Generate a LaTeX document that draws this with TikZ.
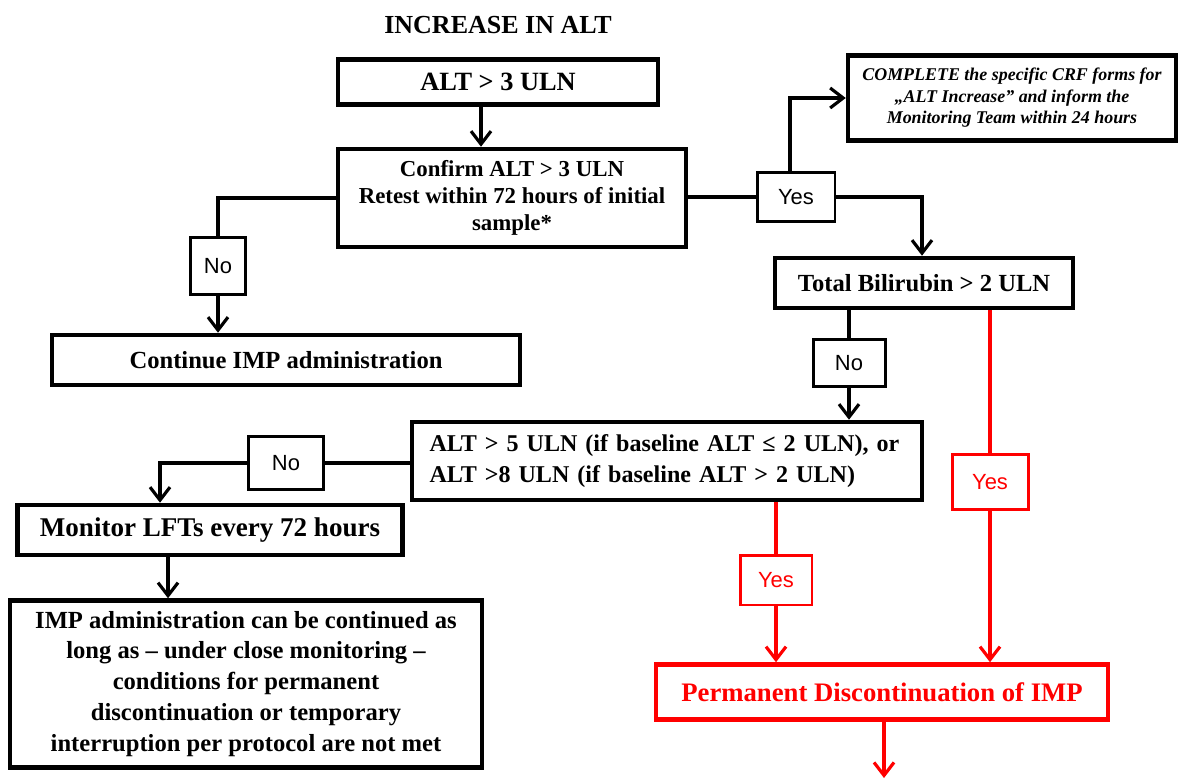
\documentclass[tikz,border=0pt]{standalone}
\usepackage{fontspec}
\setmainfont{Liberation Serif}
\newfontfamily\labelfont{Liberation Sans}
\usetikzlibrary{arrows.meta, positioning, calc}

\begin{document}
\begin{tikzpicture}[x=0.02cm, y=-0.02cm,
  box/.style={draw, line width=2.6pt, inner sep=0pt, align=center, font=\bfseries\fontsize{14}{17.6}\selectfont},
  tag/.style={draw, line width=1.7pt, inner sep=0pt, font=\labelfont\fontsize{12.5}{15}\selectfont},
  conn/.style={line width=1.8pt},
  arr/.style={conn, -{Straight Barb[length=2.6mm, width=4mm, line width=1.8pt]}}]
\useasboundingbox (0,0) rectangle (1179,780);

% decision boxes
\node[font=\bfseries\fontsize{14.8}{17}\selectfont] (title) at (498,25) {INCREASE IN ALT};
\node[box, minimum width=6.4cm, minimum height=0.9cm, font=\bfseries\fontsize{15}{18}\selectfont] (alt3) at (498,82) {ALT > 3 ULN};
\node[box, minimum width=6.96cm, minimum height=1.96cm, font=\bfseries\fontsize{13}{15.3}\selectfont] (confirm) at (512,198) {Confirm ALT > 3 ULN\\Retest within 72 hours of initial\\sample*};
\node[tag, minimum width=1.1cm, minimum height=1.14cm] (no1) at (218,266) {No};
\node[box, minimum width=9.36cm, minimum height=1cm] (cont) at (286,360) {Continue IMP administration};
\node[tag, minimum width=1.56cm, minimum height=0.98cm] (yes1) at (796,197) {Yes};
\node[box, minimum width=6.56cm, minimum height=1.7cm, font=\bfseries\itshape\fontsize{10.2}{12.2}\selectfont] (crf) at (1012,98) {COMPLETE the specific CRF forms for\\„ALT Increase” and inform the\\Monitoring Team within 24 hours};
\node[box, minimum width=5.96cm, minimum height=1cm] (bili) at (924,283) {Total Bilirubin > 2 ULN};
\node[tag, minimum width=1.44cm, minimum height=0.94cm] (no2) at (849,363) {No};
\node[box, minimum width=10.2cm, minimum height=1.56cm, align=left, text width=9.5cm, font=\bfseries\fontsize{13.7}{17.6}\selectfont] (alt5) at (667,461) {ALT > 5 ULN (if baseline ALT ≤ 2 ULN), or\\ALT >8 ULN (if baseline ALT > 2 ULN)};
\node[tag, minimum width=1.5cm, minimum height=1.06cm] (no3) at (286,463) {No};
\node[tag, draw=red, text=red, minimum width=1.52cm, minimum height=1.1cm] (yes2) at (990,482) {Yes};
\node[box, minimum width=7.7cm, minimum height=1cm, font=\bfseries\fontsize{15.4}{18}\selectfont] (mon) at (210,530) {Monitor LFTs every 72 hours};
\node[box, minimum width=9.44cm, minimum height=3.34cm] (imp) at (246,684) {IMP administration can be continued as\\long as – under close monitoring –\\conditions for permanent\\discontinuation or temporary\\interruption per protocol are not met};
\node[tag, draw=red, text=red, minimum width=1.44cm, minimum height=1cm] (yes3) at (776,580) {Yes};
\node[box, draw=red, text=red, minimum width=9.04cm, minimum height=1.1cm, font=\bfseries\fontsize{15.2}{18}\selectfont] (perm) at (882,692) {Permanent Discontinuation of IMP};
\coordinate (exit) at (884,778);

% connectors
\draw[arr] ([xshift=-0.34cm]alt3.south) -- ([xshift=-0.34cm]alt3.south |- confirm.north);
\draw[conn] (confirm.west) -| (no1.north);
\draw[arr] (no1.south) -- (no1.south |- cont.north);
\draw[conn] (yes1.west -| confirm.east) -- (yes1.west);
\draw[arr] (yes1.east) -| ([xshift=-0.04cm]bili.north);
\draw[arr] ([xshift=-0.12cm]yes1.north) |- (crf.west);
\draw[conn] (bili.south -| no2.north) -- (no2.north);
\draw[arr] (no2.south) -- (no2.south |- alt5.north);
\draw[conn, red] (bili.south -| yes2.north) -- (yes2.north);
\draw[arr, red] (yes2.south) -- (yes2.south |- perm.north);
\draw[conn] (no3.east) -- (no3.east -| alt5.west);
\draw[arr] (no3.west) -| ([xshift=-1cm]mon.north);
\draw[arr] ([xshift=-0.84cm]mon.south) -- ([xshift=-0.84cm]mon.south |- imp.north);
\draw[conn, red] (alt5.south -| yes3.north) -- (yes3.north);
\draw[arr, red] (yes3.south) -- (yes3.south |- perm.north);
\draw[arr, red] (perm.south -| exit) -- (exit);
\end{tikzpicture}
\end{document}
